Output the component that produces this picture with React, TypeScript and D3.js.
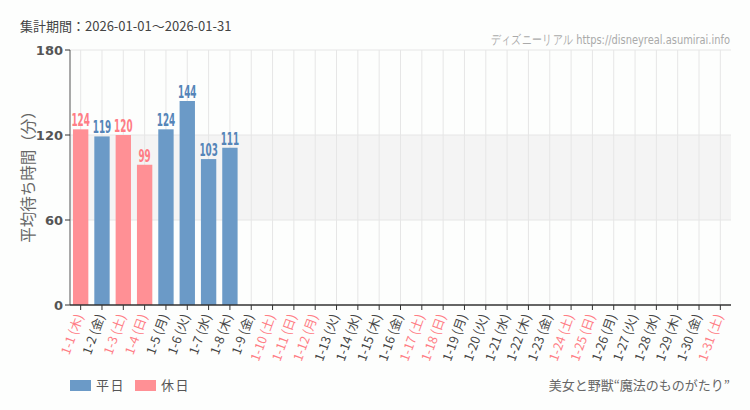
import React from "react";
import * as d3 from "d3";

const days: string[] = Array.from({ length: 31 }, (_, i) => `1-${i + 1}`);
const weekdays: string[] = ["木","金","土","日","月","火","水","木","金","土","日","月","火","水","木","金","土","日","月","火","水","木","金","土","日","月","火","水","木","金","土"];
const holidays: boolean[] = [true,false,true,true,false,false,false,false,false,true,true,true,false,false,false,false,true,true,false,false,false,false,false,true,true,false,false,false,false,false,true];
const values: (number | null)[] = [124,119,120,99,124,144,103,111,null,null,null,null,null,null,null,null,null,null,null,null,null,null,null,null,null,null,null,null,null,null,null];
const yTicks: number[] = [0, 60, 120, 180];

const W = 750, H = 410;
const M = { left: 70, right: 19, top: 50, bottom: 105 };
const BLUE = "#6b9ac7";
const BLUE_T = "#5585b8";
const PINK = "#ff9095";
const PINK_T = "#ff7d85";
const COND = "'DejaVu Sans',sans-serif";
const JP = "'Noto Sans CJK JP','Noto Sans',sans-serif";

export default function App() {
  const x = d3.scaleBand<string>().domain(days).range([M.left, W - M.right]).paddingInner(0.28).paddingOuter(0.14);
  const y = d3.scaleLinear().domain([0, 180]).range([H - M.bottom, M.top]);
  const cx = (d: string) => (x(d) as number) + x.bandwidth() / 2;
  const x0 = M.left, x1 = W - M.right, yb = H - M.bottom;
  return (
    <svg width={W} height={H} style={{ position: "absolute", left: 0, top: 0, background: "#fdfefd" }}>
      <rect x={0} y={0} width={W} height={H} fill="#fdfefd" />
      <text x={20} y={31} fontSize={13} fill="#444" fontFamily={JP}>集計期間：2026-01-01～2026-01-31</text>
      <text transform="translate(730,44) scale(0.76,1)" fontSize={13} fill="#aaa" textAnchor="end" fontFamily={COND}>ディズニーリアル https://disneyreal.asumirai.info</text>
      <rect x={x0} y={y(120)} width={x1 - x0} height={y(60) - y(120)} fill="#f4f4f4" />
      {[60, 120, 180].map(t => (
        <line key={t} x1={x0} x2={x1} y1={y(t)} y2={y(t)} stroke="#e6e6e6" strokeWidth={1} />
      ))}
      {days.map(d => (
        <line key={d} x1={cx(d)} x2={cx(d)} y1={M.top} y2={yb} stroke="#e6e6e6" strokeWidth={1} />
      ))}
      {days.map((d, i) => {
        const v = values[i];
        if (v == null) return null;
        const c = holidays[i] ? PINK : BLUE;
        return (
          <g key={d}>
            <rect x={x(d)} y={y(v)} width={x.bandwidth()} height={yb - y(v)} fill={c} />
            <text transform={`translate(${cx(d)},${y(v) - 3}) scale(0.52,1)`} fontSize={17} fontWeight="bold" textAnchor="middle" fill={holidays[i] ? PINK_T : BLUE_T} fontFamily={COND}>{v}</text>
          </g>
        );
      })}
      <line x1={x0} x2={x0} y1={M.top} y2={yb} stroke="#555" />
      {yTicks.map(t => (
        <g key={t}>
          <line x1={x0 - 5} x2={x0} y1={y(t)} y2={y(t)} stroke="#333" />
          <text x={x0 - 7} y={y(t) + 4.5} fontSize={13} fontWeight="bold" fill="#555" textAnchor="end" fontFamily="'DejaVu Sans',sans-serif">{t}</text>
        </g>
      ))}
      <line x1={x0} x2={x1} y1={yb} y2={yb} stroke="#333" strokeWidth={1.5} />
      {days.map((d, i) => (
        <g key={d}>
          <line x1={cx(d)} x2={cx(d)} y1={yb} y2={yb + 5} stroke="#333" />
          <text transform={`translate(${cx(d) + 3},${yb + 11}) rotate(-70)`} fontSize={12.5} textAnchor="end" fill={holidays[i] ? PINK_T : "#444"} fontFamily={JP}>{`${d} (${weekdays[i]})`}</text>
        </g>
      ))}
      <text transform={`translate(34,173) rotate(-90)`} fontSize={15.5} fill="#666" textAnchor="middle" fontFamily={JP}>平均待ち時間（分）</text>
      <rect x={70} y={380} width={21} height={11} fill={BLUE} />
      <text x={96} y={390} fontSize={13} fill="#555" fontFamily={JP} letterSpacing={1.5}>平日</text>
      <rect x={135} y={380} width={21} height={11} fill={PINK} />
      <text x={161} y={390} fontSize={13} fill="#555" fontFamily={JP} letterSpacing={1.5}>休日</text>
      <text x={730} y={390} fontSize={13} fill="#666" textAnchor="end" fontFamily={JP}>美女と野獣“魔法のものがたり”</text>
    </svg>
  );
}
